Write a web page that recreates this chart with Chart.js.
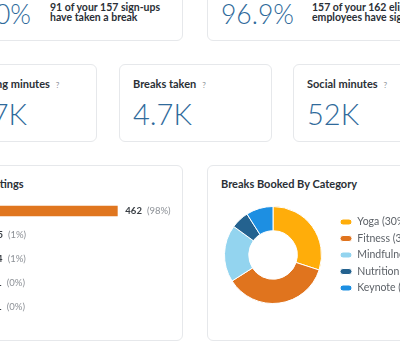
<!DOCTYPE html>
<html>
<head>
<meta charset="utf-8">
<script src="https://cdn.jsdelivr.net/npm/chart.js@4/dist/chart.umd.min.js"></script>
<style>
  html, body { margin:0; padding:0; width:400px; height:346px; overflow:hidden; background:#fff;
    font-family: Lato, "Noto Sans", sans-serif; color:#2a2f36; }
  .card { position:absolute; box-sizing:border-box; background:#fff; border:1px solid #e6e8eb; border-radius:6px; }
  .abs { position:absolute; white-space:nowrap; }
  .big { font-weight:300; color:#2f6a9b; line-height:1; }
  .sub { font-weight:700; font-size:10.5px; line-height:10px; color:#2a2f36; }
  .ttl { font-weight:700; font-size:11px; line-height:12px; color:#2a2f36; }
  .q { font-weight:400; font-size:8px; color:#8a8f96; margin-left:6px; }
  canvas { position:absolute; }
</style>
</head>
<body>
  <!-- top row: sign-up / participation summaries -->
  <div class="card" style="left:-55px;top:-40px;width:238px;height:81px"></div>
  <div class="abs big" style="left:-42px;top:1px;font-size:26.5px">58.0%</div>
  <div class="abs sub" style="left:50px;top:2px">91 of your 157 sign-ups<br>have taken a break</div>

  <div class="card" style="left:207px;top:-40px;width:238px;height:81px"></div>
  <div class="abs big" style="left:221px;top:1px;font-size:26.5px">96.9%</div>
  <div class="abs sub" style="left:312px;top:2px">157 of your 162 eligible<br>employees have signed up</div>

  <!-- middle row: totals -->
  <div class="card" style="left:-56px;top:64px;width:153px;height:78px"></div>
  <div class="abs ttl" style="left:-42px;top:78px">Stretching minutes<span class="q">?</span></div>
  <div class="abs big" style="left:-42px;top:99px;font-size:29px">137K</div>

  <div class="card" style="left:119px;top:64px;width:153px;height:78px"></div>
  <div class="abs ttl" style="left:133px;top:78px">Breaks taken<span class="q">?</span></div>
  <div class="abs big" style="left:133px;top:99px;font-size:29px">4.7K</div>

  <div class="card" style="left:293px;top:64px;width:153px;height:78px"></div>
  <div class="abs ttl" style="left:307px;top:78px">Social minutes<span class="q">?</span></div>
  <div class="abs big" style="left:307px;top:99px;font-size:29px">52K</div>

  <!-- bottom row: charts -->
  <div class="card" style="left:-55px;top:165px;width:238px;height:176px"></div>
  <div class="abs ttl" style="left:-41px;top:178px">Break ratings</div>
  <canvas id="ratings" style="left:-12px;top:199px;width:208px;height:120px" width="208" height="120"></canvas>

  <div class="card" style="left:207px;top:165px;width:238px;height:176px"></div>
  <div class="abs ttl" style="left:221px;top:178px">Breaks Booked By Category</div>
  <canvas id="categories" style="left:212px;top:206px;width:202px;height:98px" width="202" height="98"></canvas>

<script>
// Ratings given to breaks
const ratingLabels = ['5 stars', '4 stars', '3 stars', '2 stars', '1 star'];
const ratingCounts = [462, 5, 4, 1, 1];

// Share of breaks booked per category (%)
const categoryLabels = ['Yoga', 'Fitness', 'Mindfulness', 'Nutrition', 'Keynote'];
const categoryShares = [30, 36, 19, 6, 9];

const categoryColors = ['#ffad0a', '#e0741e', '#93d4ef', '#24628f', '#1d8fe2'];
const barColor = '#e0761f';
const uiFont = 'Lato, "Noto Sans", sans-serif';

// Writes "count (pct%)" just past the end of each bar
const barValueLabels = {
  id: 'barValueLabels',
  afterDatasetsDraw(chart) {
    const ctx = chart.ctx;
    const data = chart.data.datasets[0].data;
    const total = data.reduce((a, b) => a + b, 0);
    chart.getDatasetMeta(0).data.forEach((bar, i) => {
      const v = data[i];
      const pct = Math.round(v / total * 100);
      ctx.save();
      ctx.textBaseline = 'middle';
      ctx.textAlign = 'left';
      ctx.font = '700 9.5px ' + uiFont;
      ctx.fillStyle = '#3a3f45';
      const x = bar.x + 8;
      ctx.fillText(String(v), x, bar.y);
      const w = ctx.measureText(String(v)).width;
      ctx.font = '400 9.5px ' + uiFont;
      ctx.fillStyle = '#8c9096';
      ctx.fillText('(' + pct + '%)', x + w + 5, bar.y);
      ctx.restore();
    });
  }
};

new Chart(document.getElementById('ratings'), {
  type: 'bar',
  data: {
    labels: ratingLabels,
    datasets: [{ data: ratingCounts, backgroundColor: barColor, borderWidth: 0, barThickness: 10 }]
  },
  options: {
    indexAxis: 'y',
    responsive: false,
    animation: false,
    layout: { padding: { right: 40 } },
    scales: {
      x: { display: false, min: 0, max: 600 },
      y: { display: false }
    },
    plugins: { legend: { display: false }, tooltip: { enabled: false } }
  },
  plugins: [barValueLabels]
});

new Chart(document.getElementById('categories'), {
  type: 'doughnut',
  data: {
    labels: categoryLabels.map((c, i) => c + ' (' + categoryShares[i] + '%)'),
    datasets: [{ data: categoryShares, backgroundColor: categoryColors, borderColor: '#ffffff', borderWidth: 1 }]
  },
  options: {
    responsive: false,
    animation: false,
    cutout: '50%',
    plugins: {
      tooltip: { enabled: false },
      legend: {
        position: 'right',
        maxWidth: 80,
        labels: {
          boxWidth: 12, boxHeight: 6, padding: 6,
          useBorderRadius: true, borderRadius: 3,
          color: '#5d6268',
          font: { family: uiFont, size: 10.5 }
        }
      }
    }
  }
});
</script>
</body>
</html>
